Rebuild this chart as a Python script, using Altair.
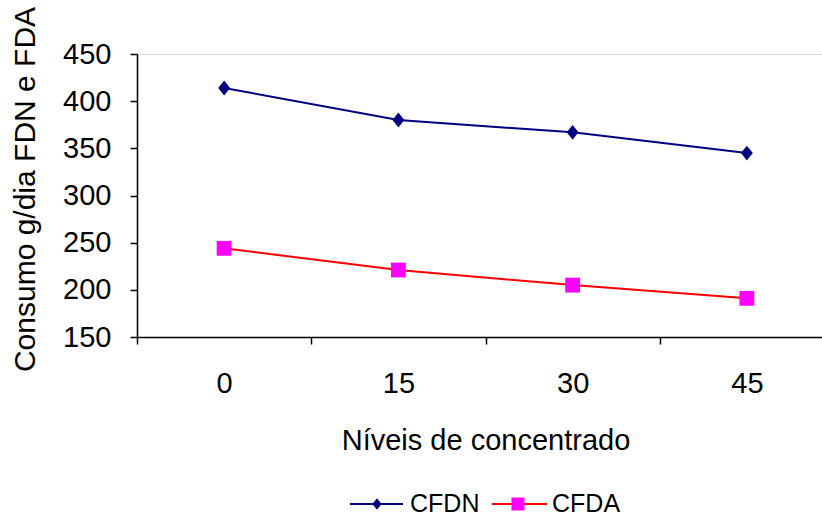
import altair as alt
import pandas as pd

niveis = ["0", "15", "30", "45"]
cfdn = [414, 380, 367, 345]
cfda = [244, 221, 205, 191]
series = ["CFDN", "CFDA"]

rows = []
for n, a, b in zip(niveis, cfdn, cfda):
    rows.append({"nivel": n, "serie": "CFDN", "marker": "CFDN", "valor": a})
    rows.append({"nivel": n, "serie": "CFDA", "marker": "CFDA", "valor": b})
df = pd.DataFrame(rows)

FONT = "Liberation Sans"
x = alt.X("nivel:N", sort=niveis, title="Níveis de concentrado",
          scale=alt.Scale(type="band", paddingInner=0, paddingOuter=0, range=[0, 697]),
          axis=alt.Axis(labelAngle=0, tickBand="extent", tickSize=7, labelPadding=25,
                        labelFontSize=29, titleFontSize=29, titlePadding=28,
                        labelFont=FONT, titleFont=FONT, labelColor="black", titleColor="black",
                        domainColor="black", tickColor="black", domainWidth=1.5, tickWidth=1.5,
                        titleFontWeight="normal", grid=False))
y = alt.Y("valor:Q", title="Consumo g/dia FDN e FDA",
          scale=alt.Scale(domain=[150, 450], nice=False, zero=False),
          axis=alt.Axis(values=[150, 200, 250, 300, 350, 400, 450], tickSize=7, labelPadding=19,
                        labelFontSize=29, titleFontSize=30, titlePadding=22, titleY=135,
                        labelFont=FONT, titleFont=FONT, labelColor="black", titleColor="black",
                        domainColor="black", tickColor="black", domainWidth=1.5, tickWidth=1.5,
                        titleFontWeight="normal", grid=False))

line_color = alt.Color("serie:N", scale=alt.Scale(domain=series, range=["#000080", "#FF0000"]), legend=None)
fill_color = alt.Fill("marker:N", scale=alt.Scale(domain=series, range=["#000080", "#FF00FF"]), legend=None)
DIAMOND = "M0,-1L0.8,0L0,1L-0.8,0Z"
shape = alt.Shape("marker:N", scale=alt.Scale(domain=series, range=[DIAMOND, "square"]), legend=None)

base = alt.Chart(df)
lines = base.mark_line(strokeWidth=2).encode(x=x, y=y, color=line_color, detail="serie:N")
points = base.mark_point(filled=True, size=220, opacity=1, strokeWidth=0).encode(
    x=x, y=y, fill=fill_color, shape=shape)

# manual legend
LY = 450
leg1 = alt.Data(values=[{"s": series[0]}])
leg2 = alt.Data(values=[{"s": series[1]}])
l1_line = alt.Chart(leg1).mark_rule(color="#000080", strokeWidth=2).encode(
    x=alt.value(213), x2=alt.value(266), y=alt.value(LY))
l1_pt = alt.Chart(leg1).mark_point(filled=True, shape=DIAMOND, size=130, color="#000080", opacity=1).encode(
    x=alt.value(240), y=alt.value(LY))
l1_txt = alt.Chart(leg1).mark_text(align="left", baseline="middle", fontSize=25, font=FONT, color="black").encode(
    x=alt.value(273), y=alt.value(LY), text="s:N")
l2_line = alt.Chart(leg2).mark_rule(color="#FF0000", strokeWidth=2).encode(
    x=alt.value(355), x2=alt.value(410), y=alt.value(LY))
l2_pt = alt.Chart(leg2).mark_point(filled=True, shape="square", size=169, color="#FF00FF", opacity=1).encode(
    x=alt.value(381), y=alt.value(LY))
l2_txt = alt.Chart(leg2).mark_text(align="left", baseline="middle", fontSize=25, font=FONT, color="black").encode(
    x=alt.value(415), y=alt.value(LY), text="s:N")

chart = alt.layer(lines, points, l1_line, l1_pt, l1_txt, l2_line, l2_pt, l2_txt).properties(
    width=685, height=283,
    autosize=alt.AutoSizeParams(type="none"),
    padding={"left": 137, "top": 54, "right": 0, "bottom": 180},
).configure_view(stroke=None).configure(background="white")

chart.save("out.html", embed_options={"renderer": "svg", "actions": False})
